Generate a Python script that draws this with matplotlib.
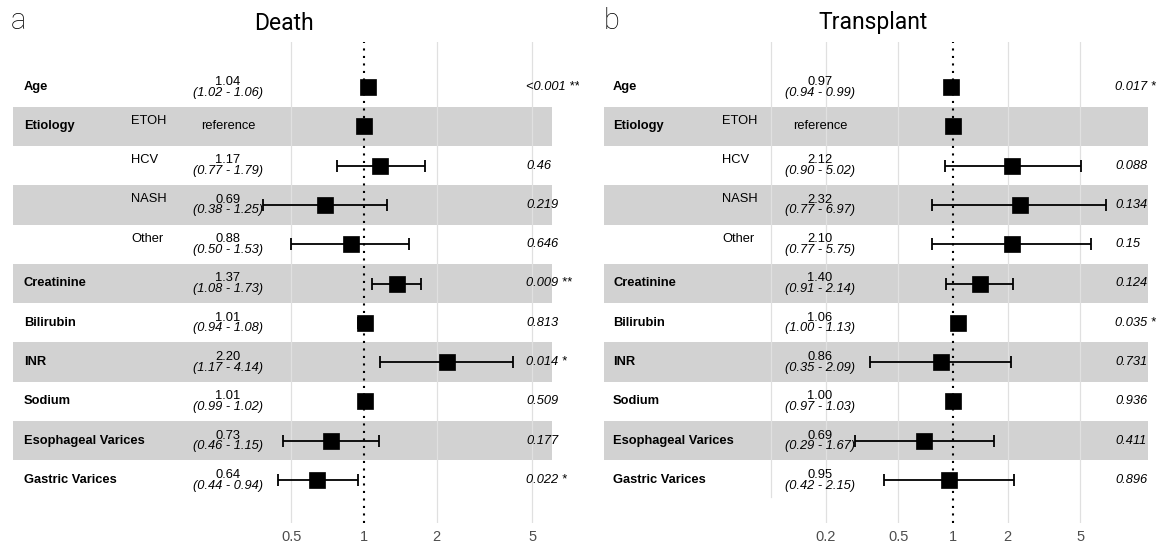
import numpy as np
import matplotlib
matplotlib.use("Agg")
import matplotlib.pyplot as plt
from matplotlib.ticker import FixedLocator, NullLocator, FixedFormatter

plt.rcParams["font.family"] = ["Liberation Sans", "DejaVu Sans"]

# ---- data -------------------------------------------------------------
variables = ["Age", "Etiology", "", "", "", "Creatinine", "Bilirubin", "INR",
             "Sodium", "Esophageal Varices", "Gastric Varices"]
levels = ["", "ETOH", "HCV", "NASH", "Other", "", "", "", "", "", ""]

death_hr = [1.04, 1.00, 1.17, 0.69, 0.88, 1.37, 1.01, 2.20, 1.01, 0.73, 0.64]
death_lo = [1.02, np.nan, 0.77, 0.38, 0.50, 1.08, 0.94, 1.17, 0.99, 0.46, 0.44]
death_hi = [1.06, np.nan, 1.79, 1.25, 1.53, 1.73, 1.08, 4.14, 1.02, 1.15, 0.94]
death_p = ["<0.001", "", "0.46", "0.219", "0.646", "0.009", "0.813", "0.014",
           "0.509", "0.177", "0.022"]
death_stars = ["***", "", "", "", "", "**", "", "*", "", "", "*"]
death_ticks = [0.5, 1, 2, 5]

tx_hr = [0.97, 1.00, 2.12, 2.32, 2.10, 1.40, 1.06, 0.86, 1.00, 0.69, 0.95]
tx_lo = [0.94, np.nan, 0.90, 0.77, 0.77, 0.91, 1.00, 0.35, 0.97, 0.29, 0.42]
tx_hi = [0.99, np.nan, 5.02, 6.97, 5.75, 2.14, 1.13, 2.09, 1.03, 1.67, 2.15]
tx_p = ["0.017", "", "0.088", "0.134", "0.15", "0.124", "0.035", "0.731",
        "0.936", "0.411", "0.896"]
tx_stars = ["*", "", "", "", "", "", "*", "", "", "", ""]
tx_ticks = [0.2, 0.5, 1, 2, 5]

# ---- layout -----------------------------------------------------------
W, H = 1167, 544
fig = plt.figure(figsize=(W / 100, H / 100), dpi=100)

ROW0, ROW_STEP = 87, 39.3       # pixel centre of first row, row spacing
Y_TOP, Y_BOT = 42, 523          # pixel extent of the panels
BAND = "#d2d2d2"
GRID = "#e0e0e0"
TITLE_FONT = ["Roboto", "Liberation Sans"]


def make_panel(px_left, px_right, px_one, px_dec, title, title_x, letter,
               letter_x, hr, lo, hi, pv, stars, ticks, cols, band_x,
               short_grid=None):
    ax = fig.add_axes([px_left / W, 1 - Y_BOT / H, (px_right - px_left) / W,
                       (Y_BOT - Y_TOP) / H])
    ax.set_xscale("log")
    ax.set_xlim(10 ** ((px_left - px_one) / px_dec),
                10 ** ((px_right - px_one) / px_dec))
    ax.set_ylim((Y_BOT - ROW0) / ROW_STEP, (Y_TOP - ROW0) / ROW_STEP)
    for s in ax.spines.values():
        s.set_visible(False)
    ax.set_facecolor("none")
    ax.set_yticks([])
    ax.xaxis.set_major_locator(FixedLocator(ticks))
    ax.xaxis.set_major_formatter(FixedFormatter([f"{t:g}" for t in ticks]))
    ax.xaxis.set_minor_locator(NullLocator())
    ax.tick_params(axis="x", length=0, pad=5, labelsize=10.5,
                   labelcolor="#4d4d4d")

    n = len(hr)
    rows = np.arange(n)
    # alternating row shading
    bx0 = (band_x[0] - px_left) / (px_right - px_left)
    bx1 = (band_x[1] - px_left) / (px_right - px_left)
    for i in rows:
        if i % 2 == 1:
            ax.axhspan(i - 0.5, i + 0.5, xmin=bx0, xmax=bx1, color=BAND,
                       lw=0, zorder=0)
    # vertical grid
    for t in ticks:
        if t != 1:
            ax.axvline(t, color=GRID, lw=0.9, zorder=1)
    if short_grid is not None:
        ymin = (Y_BOT - short_grid[1]) / (Y_BOT - Y_TOP)
        ax.axvline(short_grid[0], ymin=ymin, ymax=1, color=GRID, lw=0.9,
                   zorder=1)
    ax.axvline(1, color="black", lw=1.5, ls=(0, (1, 2.6)), zorder=2)

    hr = np.asarray(hr)
    lo = np.asarray(lo)
    hi = np.asarray(hi)
    ok = ~np.isnan(lo)
    ax.errorbar(hr[ok], rows[ok], xerr=[hr[ok] - lo[ok], hi[ok] - hr[ok]],
                fmt="none", ecolor="black", elinewidth=1.3, capsize=4.5,
                capthick=1.3, zorder=3)
    ax.plot(hr, rows, ls="none", marker="s", ms=11, mfc="black",
            mec="black", mew=0.5, zorder=4)

    tr = ax.get_yaxis_transform()
    fs = 9.3
    c_name, c_lvl, c_hr, c_p = cols
    for i in rows:
        if variables[i]:
            ax.text(c_name, i, variables[i], transform=tr, ha="left",
                    va="center", fontsize=fs, fontweight="bold", clip_on=True)
        if levels[i]:
            ax.text(c_lvl, i - 0.14, levels[i], transform=tr, ha="left",
                    va="center", fontsize=fs, clip_on=True)
        if ok[i]:
            ax.text(c_hr, i - 0.13, f"{hr[i]:.2f}", transform=tr, ha="center",
                    va="center", fontsize=fs, clip_on=True)
            ax.text(c_hr, i + 0.14, f"({lo[i]:.2f} - {hi[i]:.2f})",
                    transform=tr, ha="center", va="center", fontsize=fs,
                    style="italic", clip_on=True)
        else:
            ax.text(c_hr, i, "reference", transform=tr, ha="center",
                    va="center", fontsize=fs, clip_on=True)
        if pv[i]:
            label = f"{pv[i]} {stars[i]}".rstrip()
            ax.text(c_p, i, label, transform=tr, ha="left", va="center",
                    fontsize=fs, style="italic", clip_on=True)

    fig.text(title_x / W, 1 - 23 / H, title, ha="center", va="center",
             fontsize=16.5, family=TITLE_FONT, color="black")
    fig.text(letter_x / W, 1 - 21 / H, letter, ha="center", va="center",
             fontsize=21, family=TITLE_FONT, fontweight="light",
             color="black")
    return ax


def frac(px, lft, rgt):
    return (px - lft) / (rgt - lft)


# Death panel
L0, L1 = 10, 579
make_panel(L0, L1, 364, 241, "Death", 284, "a", 18,
           death_hr, death_lo, death_hi, death_p, death_stars, death_ticks,
           (frac(24, L0, L1), frac(131, L0, L1), frac(228, L0, L1),
            frac(526, L0, L1)),
           band_x=(13, 552))

# Transplant panel
R0, R1 = 600, 1165
make_panel(R0, R1, 953, 182, "Transplant", 873, "b", 612,
           tx_hr, tx_lo, tx_hi, tx_p, tx_stars, tx_ticks,
           (frac(613, R0, R1), frac(722, R0, R1), frac(820, R0, R1),
            frac(1115, R0, R1)),
           band_x=(604, 1148), short_grid=(0.1, 497))

fig.savefig("out.png", dpi=100, facecolor="white")
